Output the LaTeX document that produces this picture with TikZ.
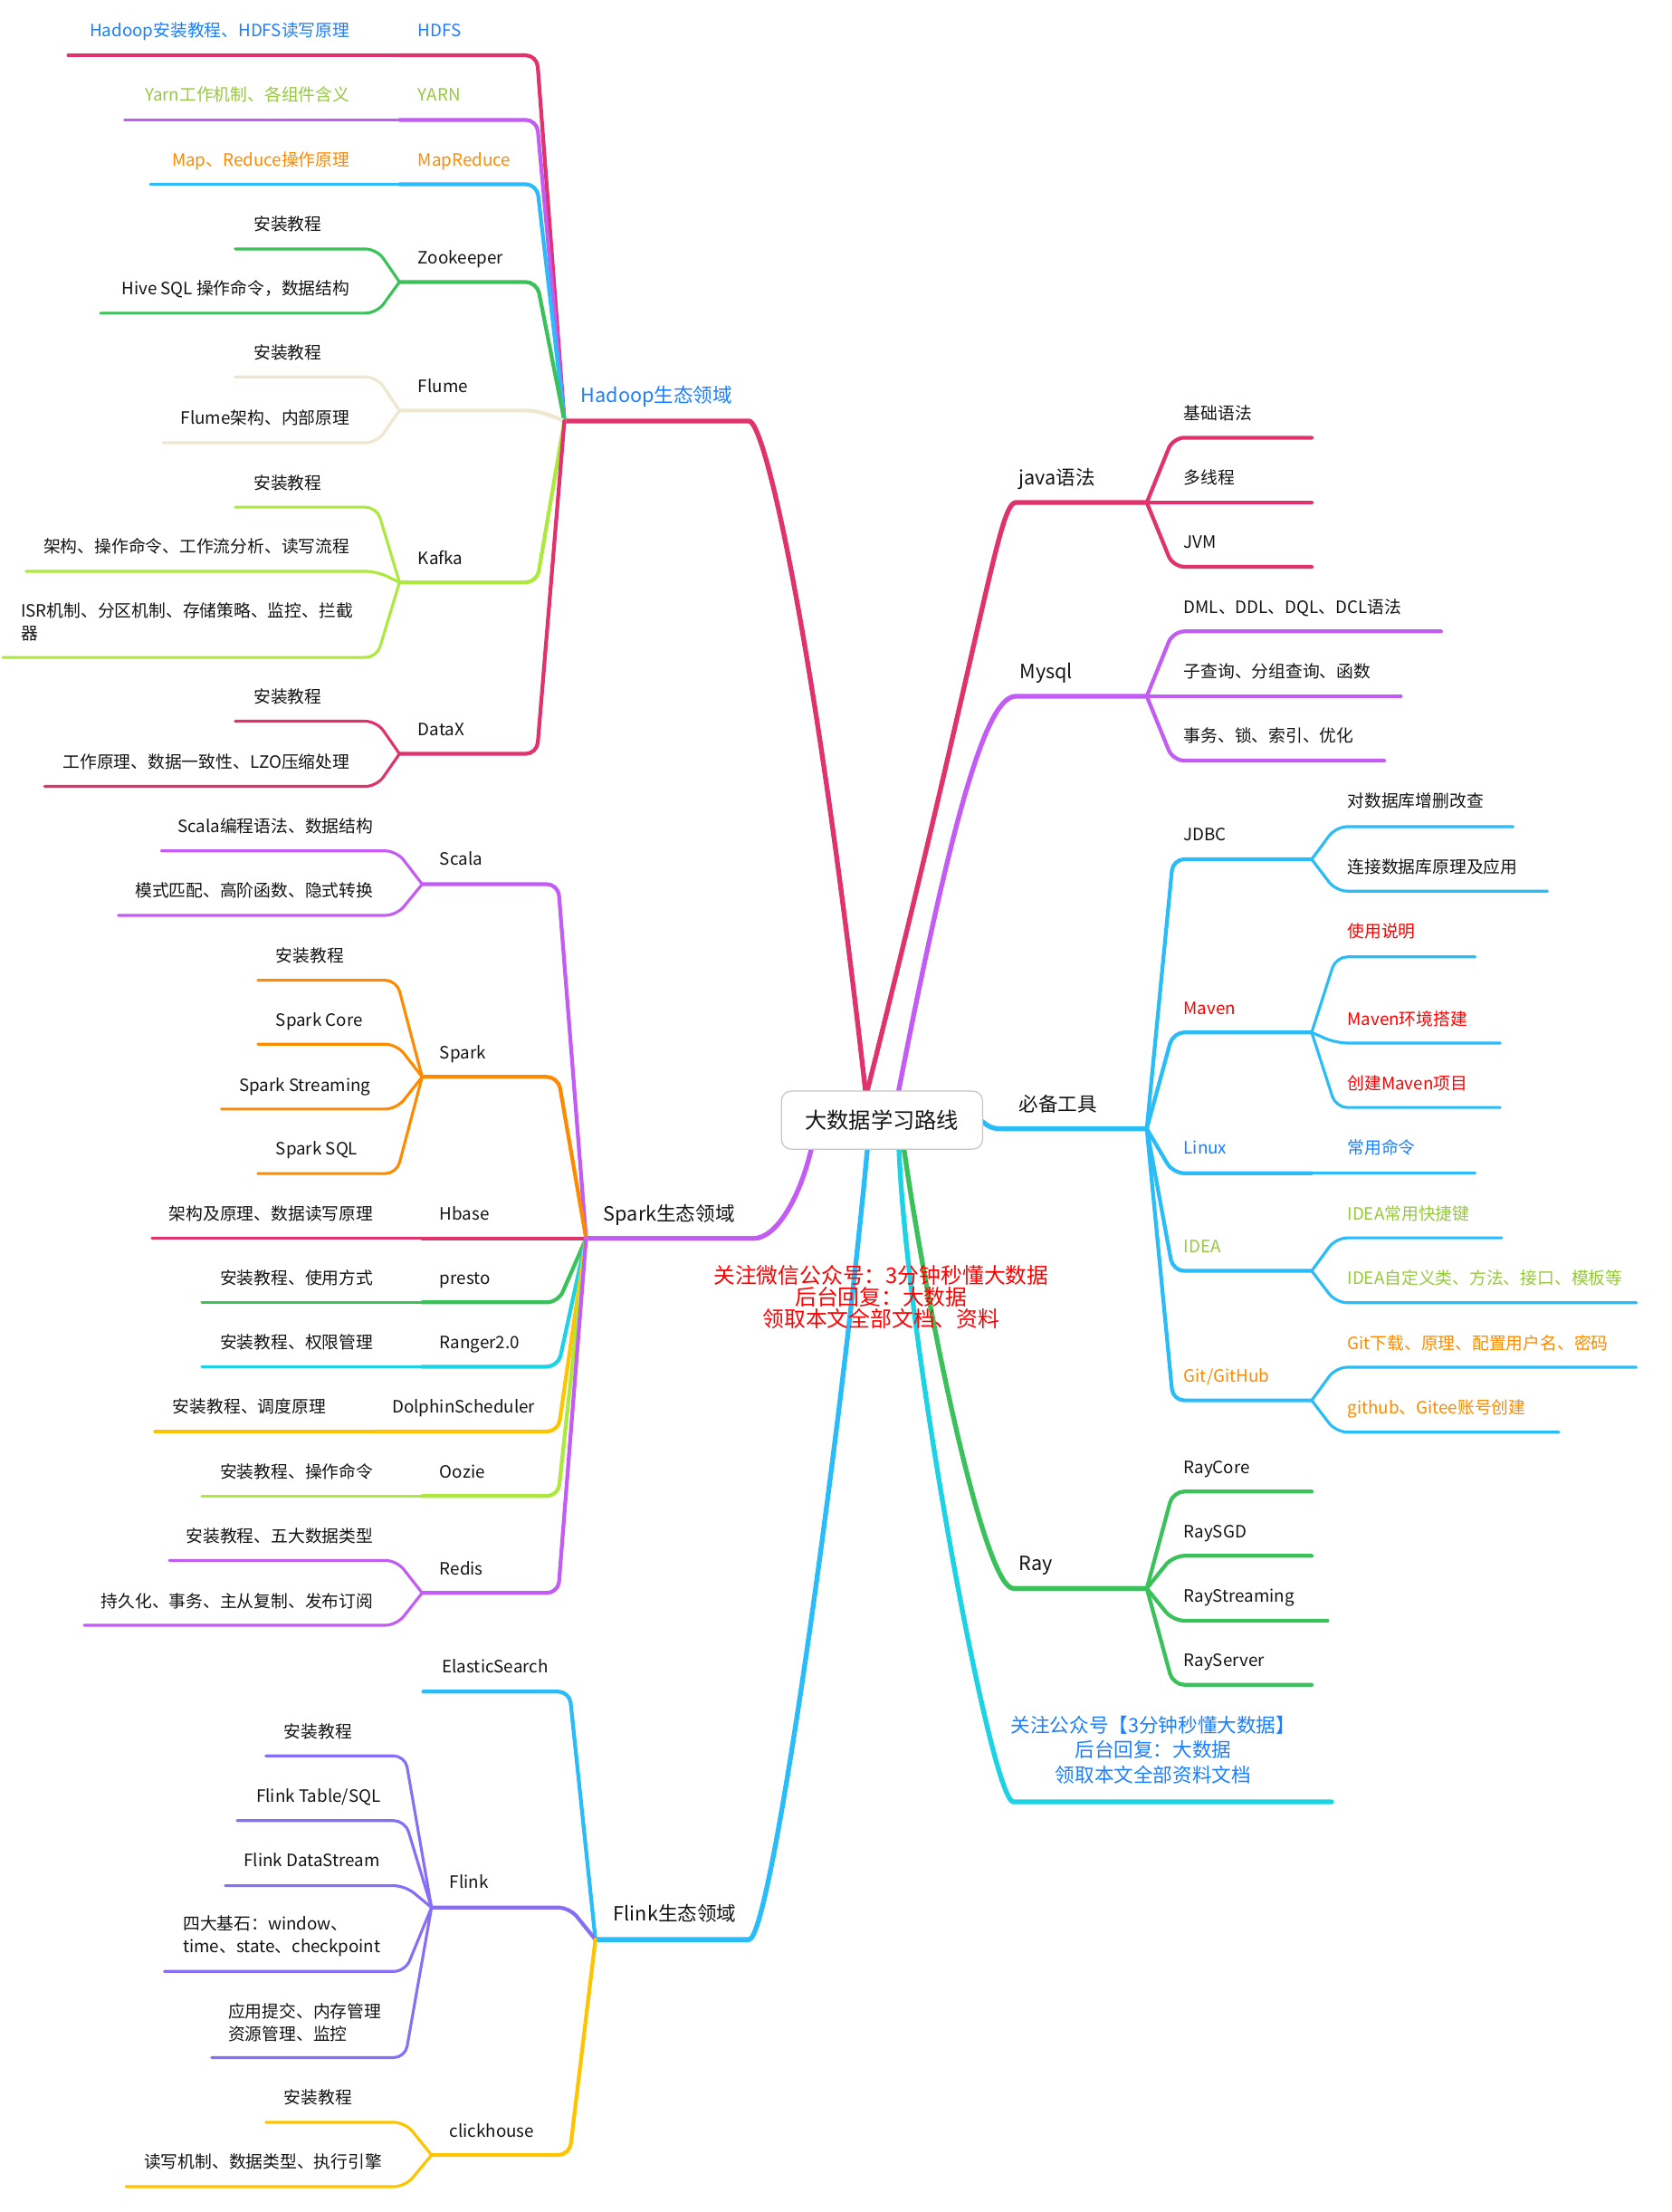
\documentclass[tikz,border=0pt]{standalone}
\usepackage{fontspec}
\setmainfont{Noto Sans CJK SC}
\usetikzlibrary{calc,backgrounds}

\definecolor{cpink}{HTML}{E0336E}
\definecolor{cpurple}{HTML}{C35BF5}
\definecolor{csky}{HTML}{2ABBF9}
\definecolor{cgreen}{HTML}{3AC15A}
\definecolor{cbeige}{HTML}{EDE7CF}
\definecolor{clime}{HTML}{ACE83E}
\definecolor{corange}{HTML}{FF8A00}
\definecolor{ccyan}{HTML}{1BD3E4}
\definecolor{cyellow}{HTML}{FFC400}
\definecolor{cviolet}{HTML}{876EF8}
\definecolor{tblue}{HTML}{1B7FFF}
\definecolor{tlime}{HTML}{96C93D}
\definecolor{torange}{HTML}{FF8A00}
\definecolor{tred}{HTML}{FF0000}
\colorlet{ink}{black!92}

\tikzset{
  trunk/.style={line width=3.4pt, line cap=round},
  limb/.style={line width=2.7pt, line cap=round, rounded corners=8pt},
  twig/.style={line width=2pt, line cap=round, rounded corners=8pt},
  lab/.style={inner sep=0pt, text=ink, font=\fontsize{12}{16}\selectfont, text height=10pt, text depth=1pt},
  lab2/.style={inner sep=0pt, text=ink, font=\fontsize{12}{16}\selectfont, align=left},
  head/.style={inner sep=0pt, text=ink, font=\fontsize{13.8}{17.5}\selectfont, text height=11.5pt, text depth=1.2pt},
  memo/.style={inner sep=0pt, text=tblue, font=\fontsize{13.8}{17.5}\selectfont, align=center},
  centre/.style={draw=black!22, line width=0.8pt, fill=white, rounded corners=7pt, minimum width=142pt, minimum height=41pt, inner sep=0pt, text=ink, font=\fontsize{15.5}{18}\selectfont},
  stamp/.style={align=center, text=tred, inner sep=0pt, font=\fontsize{15.2}{15.3}\selectfont},
}

% underline of a topic, bent into its parent
\newcommand\tw[6][]{\coordinate (#3) at (#4,#5);
  \draw[#1] (#3) -- (#6,#5) -- (#2);}

\begin{document}
\begin{tikzpicture}[x=1pt,y=-1pt]
\useasboundingbox (0,0) rectangle (1180.2,1561.1);

\node[centre] (root) at (622.6,790.5) {大数据学习路线};

\coordinate (hadoop) at (398.4,297.1);
\coordinate (spark) at (413.7,874);
\coordinate (flink) at (420.3,1368.8);
\coordinate (java) at (809.5,354.7);
\coordinate (mysql) at (809.5,491.4);
\coordinate (tools) at (809.5,796.6);
\coordinate (ray) at (809.5,1121);
\coordinate (note) at (940,1271.6);

\begin{scope}[on background layer]
\fill[white] (0,0) rectangle (1180.2,1561.1);

\draw[trunk,cpink] ($(root.north)+(-11.5,2)$) .. controls (575,450) and (540,297.1) .. (528.7,297.1) -- (hadoop);
\draw[trunk,cpurple] ($(root.south)+(-49.6,-2)$) .. controls (565,845) and (548,874) .. (532,874) -- (spark);
\draw[trunk,csky] ($(root.south)+(-10.2,-2)$) .. controls (595,1000) and (545,1368.8) .. (528.7,1368.8) -- (flink);
\draw[trunk,cpink] ($(root.north)+(-10.8,2)$) .. controls (695,440) and (705,354.7) .. (717,354.7) -- (java);
\draw[trunk,cpurple] ($(root.north)+(11.4,2)$) .. controls (675,560) and (698,491.4) .. (717,491.4) -- (mysql);
\draw[trunk,csky] ($(root.east)+(-2,0)$) .. controls (700,796.6) .. (712,796.6) -- (tools);
\draw[trunk,cgreen] ($(root.south)+(15.3,-2)$) .. controls (655,930) and (695,1121) .. (715.3,1121) -- (ray);
\draw[trunk,ccyan] ($(root.south)+(11.9,-2)$) .. controls (640,950) and (700,1271.6) .. (715.3,1271.6) -- (note);

\foreach \n/\c/\y in {hdfs/cpink/39, yarn/cpurple/84.6, mapr/csky/130, zook/cgreen/199, flume/cbeige/289.7, kafka/clime/411, datax/cpink/532}
  {\tw[limb,\c]{hadoop}{\n}{282}{\y}{379}}
\foreach \n/\p/\c/\x/\y in {hdfs1/hdfs/cpink/48/39, yarn1/yarn/cpurple/88/84.6, mapr1/mapr/csky/106/130, zook1/zook/cgreen/166/175.7, zook2/zook/cgreen/71/221, flume1/flume/cbeige/166/266, flume2/flume/cbeige/115/312.5, kafka1/kafka/clime/166/357.9, kafka2/kafka/clime/18.4/403.2, kafka3/kafka/clime/2/464, datax1/datax/cpink/166/509, datax2/datax/cpink/31.4/555}
  {\tw[twig,\c]{\p}{\n}{\x}{\y}{266}}

\foreach \n/\c/\x/\y in {scala/cpurple/298/624, spk/corange/298/760, hbase/cpink/298/874, presto/cgreen/298/919.1, ranger/ccyan/298/964.5, dolphin/cyellow/264.3/1010.3, oozie/clime/298/1055.8, redis/cpurple/298/1124.2}
  {\tw[limb,\c]{spark}{\n}{\x}{\y}{394}}
\foreach \n/\p/\c/\x/\y in {scala1/scala/cpurple/113.8/600.5, scala2/scala/cpurple/83.5/646, spk1/spk/corange/182/691.8, spk2/spk/corange/182/736.9, spk3/spk/corange/156.3/782.7, spk4/spk/corange/182/828.2, hbase1/hbase/cpink/107.3/874, presto1/presto/cgreen/142.5/919.1, ranger1/ranger/ccyan/142.5/964.5, oozie1/oozie/clime/142.5/1055.8, redis1/redis/cpurple/119.5/1101.2, redis2/redis/cpurple/59.4/1147}
  {\tw[twig,\c]{\p}{\n}{\x}{\y}{280}}
\tw[twig,cyellow]{dolphin}{dolphin1}{109.2}{1010.3}{250}

\foreach \n/\c/\x/\y in {es/csky/298.8/1193.8, flk/cviolet/304.6/1346.2, ch/cyellow/304.6/1520.9}
  {\tw[limb,\c]{flink}{\n}{\x}{\y}{402}}
\foreach \n/\p/\c/\x/\y in {flk1/flk/cviolet/187.7/1239.2, flk2/flk/cviolet/167.4/1284.9, flk3/flk/cviolet/159/1330.8, flk4/flk/cviolet/116/1391.3, flk5/flk/cviolet/149.4/1452.1, ch1/ch/cyellow/187.7/1497.8, ch2/ch/cyellow/88.9/1543.2}
  {\tw[twig,\c]{\p}{\n}{\x}{\y}{286}}

\foreach \n/\x/\y in {java1/925.9/308.9, java2/925.9/354.7, java3/925.9/400}
  {\tw[limb,cpink]{java}{\n}{\x}{\y}{828}}
\foreach \n/\x/\y in {mysql1/1017.2/445.6, mysql2/988.8/491.4, mysql3/977/536.8}
  {\tw[limb,cpurple]{mysql}{\n}{\x}{\y}{828}}
\foreach \n/\y in {jdbc/606.4, maven/728.6, linux/828, idea/896.9, git/988.3}
  {\tw[limb,csky]{tools}{\n}{925.9}{\y}{828}}
\foreach \n/\p/\x/\y in {jdbc1/jdbc/1068.2/583.4, jdbc2/jdbc/1092.3/628.9, maven1/maven/1041.3/675.3, maven2/maven/1059/736.1, maven3/maven/1059/781.6, linux1/linux/1041.3/828, idea1/idea/1060.1/873.6, idea2/idea/1155.1/919.4, git1/git/1155.1/964.9, git2/git/1100.4/1010.7}
  {\tw[twig,csky]{\p}{\n}{\x}{\y}{943}}
\foreach \n/\x/\y in {ray1/925.9/1052.6, ray2/925.9/1098, ray3/937/1143.8, ray4/925.9/1189}
  {\tw[limb,cgreen]{ray}{\n}{\x}{\y}{828}}
\end{scope}

\node[head,anchor=west,text=tblue] (hadoop-t) at (410,279) {Hadoop生态领域};
\node[head,anchor=west] (spark-t) at (426,856.8) {Spark生态领域};
\node[head,anchor=west] (flink-t) at (433,1350.8) {Flink生态领域};
\node[head,anchor=west] (java-t) at (719,337) {java语法};
\node[head,anchor=west] (mysql-t) at (719.7,474) {Mysql};
\node[head,anchor=west] (tools-t) at (719,779.2) {必备工具};
\node[head,anchor=west] (ray-t) at (719,1103.3) {Ray};
\node[memo] (note-t) at (814,1235) {关注公众号【3分钟秒懂大数据】\\后台回复：大数据\\领取本文全部资料文档};

\foreach \n/\y/\tc/\t in {hdfs/21.3/tblue/HDFS, yarn/67/tlime/YARN, mapr/113/torange/MapReduce, zook/181.5/ink/Zookeeper, flume/272.6/ink/Flume, kafka/394/ink/Kafka, datax/515/ink/DataX}
  {\node[lab,anchor=west,text=\tc] (\n-t) at (295,\y) {\t};}
\foreach \n/\y/\tc/\t in {hdfs1/21.3/tblue/Hadoop安装教程、HDFS读写原理, yarn1/67/tlime/Yarn工作机制、各组件含义, mapr1/113/torange/Map、Reduce操作原理, zook2/203.4/ink/Hive SQL 操作命令，数据结构, flume2/295/ink/Flume架构、内部原理, kafka2/385.5/ink/架构、操作命令、工作流分析、读写流程, datax2/538/ink/工作原理、数据一致性、LZO压缩处理}
  {\node[lab,anchor=east,text=\tc] (\n-t) at (247,\y) {\t};}
\foreach \n/\y in {zook1/158, flume1/249, kafka1/340.8, datax1/492}
  {\node[lab,anchor=west] (\n-t) at (179,\y) {安装教程};}
\node[lab2,anchor=west] (kafka3-t) at (14.6,439) {ISR机制、分区机制、存储策略、监控、拦截\\器};

\foreach \n/\y/\t in {scala/606/Scala, spk/742.8/Spark, hbase/856.8/Hbase, presto/902/presto, ranger/947.4/Ranger2.0, oozie/1038.8/Oozie, redis/1107/Redis}
  {\node[lab,anchor=west] (\n-t) at (310.3,\y) {\t};}
\node[lab,anchor=west] (dolphin-t) at (276.6,992.6) {DolphinScheduler};
\foreach \n/\y/\t in {scala1/582.9/Scala编程语法、数据结构, scala2/628.4/模式匹配、高阶函数、隐式转换, hbase1/856.8/架构及原理、数据读写原理, presto1/902/安装教程、使用方式, ranger1/947.4/安装教程、权限管理, oozie1/1038.8/安装教程、操作命令, redis1/1084.2/安装教程、五大数据类型, redis2/1130/持久化、事务、主从复制、发布订阅}
  {\node[lab,anchor=east] (\n-t) at (263.6,\y) {\t};}
\foreach \n/\x/\y/\t in {spk1/194.6/674.2/安装教程, spk2/194.6/720/Spark Core, spk3/168.6/765.5/Spark Streaming, spk4/194.6/810.6/Spark SQL, dolphin1/121.8/992.6/安装教程、调度原理}
  {\node[lab,anchor=west] (\n-t) at (\x,\y) {\t};}

\node[lab,anchor=west] (es-t) at (312,1175.9) {ElasticSearch};
\node[lab,anchor=west] (flk-t) at (317.2,1328.2) {Flink};
\node[lab,anchor=west] (ch-t) at (317.2,1504) {clickhouse};
\node[lab,anchor=west] (flk1-t) at (200.4,1222) {安装教程};
\node[lab,anchor=west] (flk2-t) at (180.8,1267.4) {Flink Table/SQL};
\node[lab,anchor=west] (flk3-t) at (172,1312.8) {Flink DataStream};
\node[lab2,anchor=west] (flk4-t) at (129.1,1366.4) {四大基石：window、\\time、state、checkpoint};
\node[lab2,anchor=west] (flk5-t) at (160.9,1427.1) {应用提交、内存管理\\资源管理、监控};
\node[lab,anchor=west] (ch1-t) at (200.4,1480.3) {安装教程};
\node[lab,anchor=west] (ch2-t) at (101.5,1525.7) {读写机制、数据类型、执行引擎};

\foreach \n/\y/\t in {java1/291.4/基础语法, java2/337/多线程, java3/382.4/JVM, mysql1/428.2/DML、DDL、DQL、DCL语法, mysql2/474/子查询、分组查询、函数, mysql3/519.3/事务、锁、索引、优化, ray1/1035.6/RayCore, ray2/1081/RaySGD, ray3/1126.3/RayStreaming, ray4/1171.5/RayServer}
  {\node[lab,anchor=west] (\n-t) at (835.4,\y) {\t};}
\node[lab,anchor=west] (jdbc-t) at (835.4,589) {JDBC};
\node[lab,anchor=west,text=tred] (maven-t) at (835.4,711.8) {Maven};
\node[lab,anchor=west,text=tblue] (linux-t) at (835.4,810) {Linux};
\node[lab,anchor=west,text=tlime] (idea-t) at (835.4,879.6) {IDEA};
\node[lab,anchor=west,text=torange] (git-t) at (835.4,970.9) {Git/GitHub};
\foreach \n/\y/\tc/\t in {jdbc1/565.4/ink/对数据库增删改查, jdbc2/611.8/ink/连接数据库原理及应用, maven1/657.3/tred/使用说明, maven2/719.3/tred/Maven环境搭建, maven3/764.3/tred/创建Maven项目, linux1/810/tblue/常用命令, idea1/856.5/tlime/IDEA常用快捷键, idea2/902/tlime/IDEA自定义类、方法、接口、模板等, git1/947.8/torange/Git下载、原理、配置用户名、密码, git2/993.4/torange/github、Gitee账号创建}
  {\node[lab,anchor=west,text=\tc] (\n-t) at (951,\y) {\t};}

\node[stamp] (stamp) at (622,915.2) {关注微信公众号：3分钟秒懂大数据\\后台回复：大数据\\领取本文全部文档、资料};

\end{tikzpicture}
\end{document}
